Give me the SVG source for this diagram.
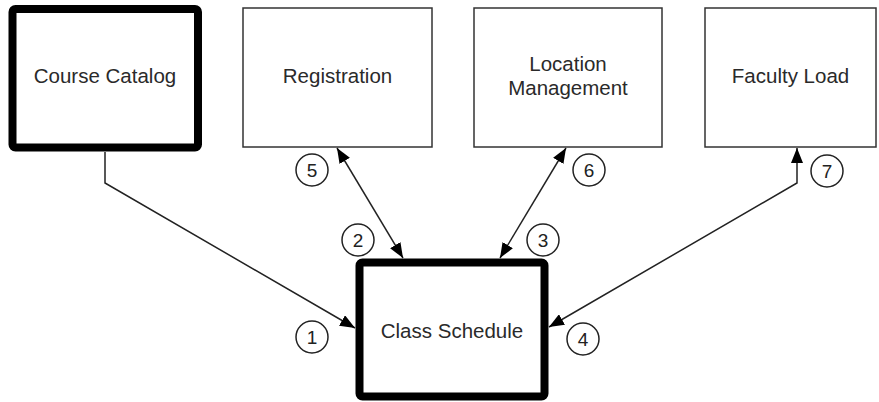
<svg xmlns="http://www.w3.org/2000/svg" width="879" height="402" viewBox="0 0 879 402">
<defs>
<style>
.box{fill:#fff;stroke:#333;stroke-width:1.5}
.thick{fill:#fff;stroke:#000;stroke-width:8}
.lbl{font-family:"Liberation Sans",Arial,sans-serif;font-size:20.5px;fill:#2a2a2a;text-anchor:middle}
.num{font-family:"Liberation Sans",Arial,sans-serif;font-size:19px;fill:#222;text-anchor:middle}
.badge{fill:#fff;stroke:#222;stroke-width:1.5}
.conn{fill:none;stroke:#222;stroke-width:1.5}
</style>
<marker id="arr" viewBox="0 0 15 12" refX="15" refY="6" markerWidth="15" markerHeight="12" markerUnits="userSpaceOnUse" orient="auto-start-reverse">
<path d="M0,0 L15,6 L0,12 z" fill="#000"/>
</marker>
</defs>
<g id="connectors">
<path class="conn" d="M105,152 L105,183 L355,328" marker-end="url(#arr)"/>
<line class="conn" x1="337" y1="148" x2="403" y2="258" marker-start="url(#arr)" marker-end="url(#arr)"/>
<line class="conn" x1="566" y1="148" x2="500" y2="258" marker-start="url(#arr)" marker-end="url(#arr)"/>
<path class="conn" d="M549,327 L797,183 L797,148" marker-start="url(#arr)" marker-end="url(#arr)"/>
</g>
<g id="course-catalog">
<rect class="thick" x="12.5" y="9" width="185.5" height="138.5" rx="3"/>
<text class="lbl" x="105" y="83">Course Catalog</text>
</g>
<g id="registration">
<rect class="box" x="243" y="8" width="189" height="139"/>
<text class="lbl" x="337.5" y="83">Registration</text>
</g>
<g id="location-management">
<rect class="box" x="474" y="8" width="188" height="139"/>
<text class="lbl" x="568" y="71">Location</text>
<text class="lbl" x="568" y="95">Management</text>
</g>
<g id="faculty-load">
<rect class="box" x="705" y="8" width="171" height="139"/>
<text class="lbl" x="790.5" y="83">Faculty Load</text>
</g>
<g id="class-schedule">
<rect class="thick" x="359.5" y="262.5" width="185" height="134" rx="3"/>
<text class="lbl" x="452" y="338">Class Schedule</text>
</g>
<g id="badges">
<circle class="badge" cx="312" cy="337" r="16"/><text class="num" x="312" y="344">1</text>
<circle class="badge" cx="358" cy="240" r="16"/><text class="num" x="358" y="247">2</text>
<circle class="badge" cx="543" cy="240" r="16"/><text class="num" x="543" y="247">3</text>
<circle class="badge" cx="583" cy="339" r="16"/><text class="num" x="583" y="346">4</text>
<circle class="badge" cx="312" cy="170" r="16"/><text class="num" x="312" y="177">5</text>
<circle class="badge" cx="589" cy="170" r="16"/><text class="num" x="589" y="177">6</text>
<circle class="badge" cx="827" cy="171" r="16"/><text class="num" x="827" y="178">7</text>
</g>
</svg>
